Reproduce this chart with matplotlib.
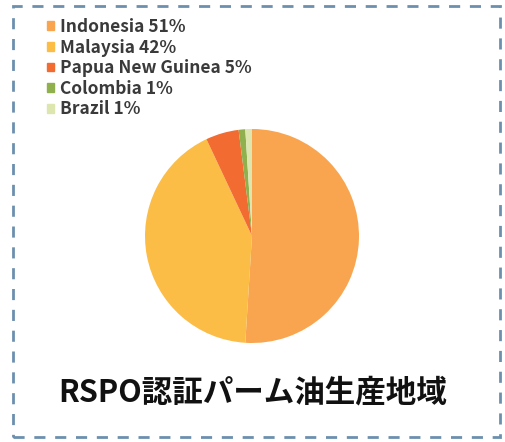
import matplotlib
matplotlib.use("Agg")
import matplotlib.pyplot as plt
from matplotlib.patches import Rectangle, Patch

plt.rcParams['font.family'] = ['Noto Sans CJK JP', 'DejaVu Sans']

countries = ['Indonesia', 'Malaysia', 'Papua New Guinea', 'Colombia', 'Brazil']
shares = [51, 42, 5, 1, 1]
colors = ['#F9A54F', '#FBBD46', '#F26B30', '#8FB04C', '#DCE6AE']
title = 'RSPO認証パーム油生産地域'

W, H = 506, 442
fig = plt.figure(figsize=(W / 100, H / 100), dpi=100)
ax = fig.add_axes([0, 0, 1, 1])

# dashed frame
ax.add_patch(Rectangle((13, 5), 487, 431, fill=False, edgecolor='#6C8FAE',
                       lw=2, linestyle=(0, (4, 3.5))))

wedges, _ = ax.pie(shares, colors=colors, startangle=90, counterclock=False,
                   center=(252, H - 236), radius=107, frame=True,
                   wedgeprops=dict(linewidth=0))
ax.set_xlim(0, W)
ax.set_ylim(0, H)
ax.set_aspect('auto')
ax.axis('off')

labels = [f'{c} {s}%' for c, s in zip(countries, shares)]
handles = [Patch(color=c) for c in colors]
leg = ax.legend(handles, labels, loc='upper left', bbox_to_anchor=(47 / W, 1 - 18 / H),
                frameon=False, handlelength=0.4, handleheight=0.4, handletextpad=0.35,
                labelspacing=0.15, borderaxespad=0, borderpad=0,
                prop=dict(size=12.5, weight='bold'))
for t in leg.get_texts():
    t.set_color('#3a3a3a')

ax.text(253, H - 392, title, ha='center', va='center', fontsize=22,
        weight='bold', color='#111111')

fig.savefig('out.png', dpi=100)
